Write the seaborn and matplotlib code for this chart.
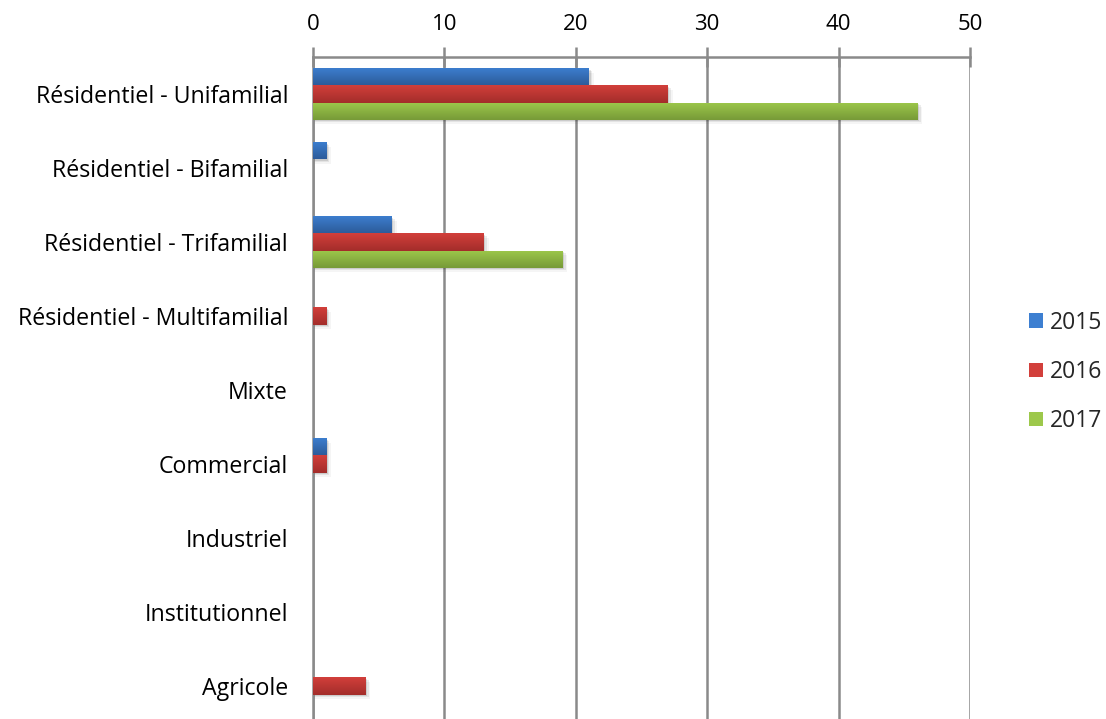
import numpy as np
import pandas as pd
import matplotlib
matplotlib.use("Agg")
import matplotlib.pyplot as plt
import seaborn as sns
from matplotlib.colors import LinearSegmentedColormap

categories = ["Résidentiel - Unifamilial", "Résidentiel - Bifamilial", "Résidentiel - Trifamilial",
              "Résidentiel - Multifamilial", "Mixte", "Commercial", "Industriel",
              "Institutionnel", "Agricole"]
years = ["2015", "2016", "2017"]
v2015 = [21, 1, 6, 0, 0, 1, 0, 0, 0]
v2016 = [27, 0, 13, 1, 0, 1, 0, 0, 4]
v2017 = [46, 0, 19, 0, 0, 0, 0, 0, 0]
xticks = [0, 10, 20, 30, 40, 50]

top_cols = {"2015": "#3d7fd1", "2016": "#d23f3b", "2017": "#9dc84b"}
bot_cols = {"2015": "#2d5c9a", "2016": "#a32d2a", "2017": "#779a38"}

rows = []
for yr, vals in zip(years, [v2015, v2016, v2017]):
    for c, v in zip(categories, vals):
        rows.append({"cat": c, "year": yr, "val": v})
df = pd.DataFrame(rows)

sns.set_theme(style="white")
plt.rcParams['font.family'] = ['Open Sans', 'DejaVu Sans']

fig = plt.figure(figsize=(11.06, 7.19), dpi=100)
ax = fig.add_axes([313/1106, 1 - 723/719, (970-313)/1106, (723-57)/719])

sns.barplot(data=df, y="cat", x="val", hue="year", orient="h", ax=ax,
            palette=top_cols, width=0.69, saturation=1, legend=True,
            order=categories, hue_order=years)

# gradient fill + shadow for each bar
grad = np.linspace(0, 1, 64).reshape(-1, 1)
for cont, yr in zip(ax.containers, years):
    cmap = LinearSegmentedColormap.from_list("g" + yr, [top_cols[yr], bot_cols[yr]])
    for p in cont.patches:
        w = p.get_width()
        if w <= 0:
            p.set_visible(False)
            continue
        x0, y0 = p.get_x(), p.get_y()
        h = p.get_height()
        p.set_edgecolor("none")
        for i, a in enumerate([0.10, 0.07, 0.04]):
            sh = plt.Rectangle((x0, y0 + 0.02 * (i + 1)), w + 0.12 * (i + 1), h,
                               facecolor="black", alpha=a, edgecolor="none", zorder=1.5)
            ax.add_patch(sh)
        im = ax.imshow(grad, extent=[x0, x0 + w, y0 + h, y0], aspect="auto",
                       cmap=cmap, zorder=3, interpolation="bicubic")
        im.set_clip_path(p)
        p.set_zorder(3)

ax.set_xlim(0, 50)
ax.set_ylim(len(categories) - 0.5, -0.5)
ax.set_xticks(xticks)
ax.xaxis.tick_top()
ax.set_xlabel("")
ax.set_ylabel("")
ax.grid(axis="x", color="#8a8a8a", linewidth=1.8, zorder=0)
ax.set_axisbelow(True)
for s in ["right", "bottom"]:
    ax.spines[s].set_visible(False)
for s in ["top", "left"]:
    ax.spines[s].set_color("#8a8a8a")
    ax.spines[s].set_linewidth(1.8)

ax.tick_params(axis="x", which="major", direction="inout", length=14, width=1.8,
               color="#8a8a8a", labelsize=16, pad=9, labelcolor="black")
ax.set_yticks(np.arange(len(categories)))
ax.set_yticklabels(categories)
ax.tick_params(axis="y", which="major", length=0, labelsize=16.7, pad=18, labelcolor="black")
ax.set_yticks(np.arange(len(categories) + 1) - 0.5, minor=True)
ax.tick_params(axis="y", which="minor", direction="out", length=8, width=1.8, color="#8a8a8a")

leg = ax.legend(loc="center left", bbox_to_anchor=((1020 - 313) / 657, (723 - 372) / 666),
                frameon=False, fontsize=16.5, handlelength=0.6, handleheight=0.6,
                labelspacing=1.1, handletextpad=0.3, borderaxespad=0)
for h, yr in zip(leg.legend_handles, years):
    h.set_facecolor(top_cols[yr])
    h.set_edgecolor("none")

fig.savefig("out.png", dpi=100)
